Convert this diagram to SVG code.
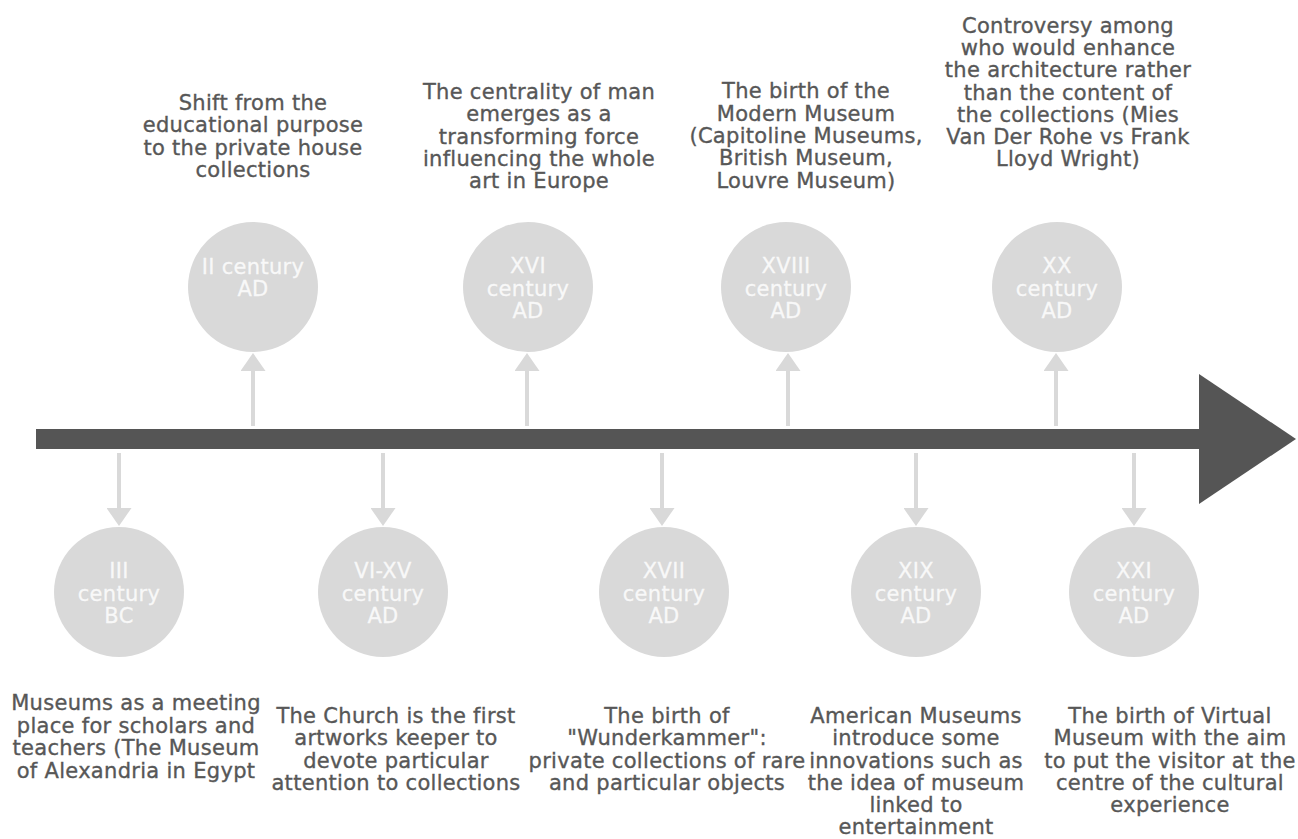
<svg xmlns="http://www.w3.org/2000/svg" width="1298" height="839" viewBox="0 0 1298 839">
  <defs>
    <style>
      .axis { fill: #555555; }
      .dot { fill: #d9d9d9; }
      .era { font-family: "DejaVu Sans", "Liberation Sans", sans-serif; font-size: 21px; letter-spacing: 0.3px; fill: #f8f8f8; stroke: #f8f8f8; stroke-width: 0.3; text-anchor: middle; }
      .note { font-family: "DejaVu Sans", "Liberation Sans", sans-serif; font-size: 21px; letter-spacing: 0.3px; fill: #575757; stroke: #575757; stroke-width: 0.35; text-anchor: middle; }
      .link { stroke: #d9d9d9; stroke-width: 4; fill: none; marker-end: url(#head); }
    </style>
    <marker id="head" viewBox="0 0 18 25" refX="0" refY="12.5" markerWidth="18" markerHeight="25" markerUnits="userSpaceOnUse" orient="auto">
      <path d="M0,0 L18,12.5 L0,25 z" fill="#d9d9d9"/>
    </marker>
  </defs>

  <rect width="1298" height="839" fill="#ffffff"/>

  <!-- main time axis -->
  <g id="timeline-axis">
    <rect class="axis" x="36" y="429" width="1164" height="20"/>
    <polygon class="axis" points="1199,374 1296,439 1199,504"/>
  </g>

  <!-- ticks from the axis to each period -->
  <g id="connectors">
    <line class="link" x1="119" y1="453" x2="119" y2="508"/>
    <line class="link" x1="253" y1="426" x2="253" y2="371"/>
    <line class="link" x1="383" y1="453" x2="383" y2="508"/>
    <line class="link" x1="527" y1="426" x2="527" y2="371"/>
    <line class="link" x1="662" y1="453" x2="662" y2="508"/>
    <line class="link" x1="788" y1="426" x2="788" y2="371"/>
    <line class="link" x1="916" y1="453" x2="916" y2="508"/>
    <line class="link" x1="1056" y1="426" x2="1056" y2="371"/>
    <line class="link" x1="1134" y1="453" x2="1134" y2="508"/>
  </g>

  <g id="node-iii-bc">
    <circle class="dot" cx="119" cy="592" r="65"/>
    <text class="era"><tspan x="119" y="578">III</tspan><tspan x="119" y="601">century</tspan><tspan x="119" y="623">BC</tspan></text>
    <text class="note"><tspan x="136" y="710">Museums as a meeting</tspan><tspan x="136" y="733">place for scholars and</tspan><tspan x="136" y="755">teachers (The Museum</tspan><tspan x="136" y="778">of Alexandria in Egypt</tspan></text>
  </g>

  <g id="node-ii-ad">
    <circle class="dot" cx="253" cy="287" r="65"/>
    <text class="era"><tspan x="253" y="274">II century</tspan><tspan x="253" y="296">AD</tspan></text>
    <text class="note"><tspan x="253" y="110">Shift from the</tspan><tspan x="253" y="132">educational purpose</tspan><tspan x="253" y="155">to the private house</tspan><tspan x="253" y="177">collections</tspan></text>
  </g>

  <g id="node-vi-xv-ad">
    <circle class="dot" cx="383" cy="592" r="65"/>
    <text class="era"><tspan x="383" y="578">VI-XV</tspan><tspan x="383" y="601">century</tspan><tspan x="383" y="623">AD</tspan></text>
    <text class="note"><tspan x="396" y="723">The Church is the first</tspan><tspan x="396" y="745">artworks keeper to</tspan><tspan x="396" y="768">devote particular</tspan><tspan x="396" y="790">attention to collections</tspan></text>
  </g>

  <g id="node-xvi-ad">
    <circle class="dot" cx="528" cy="287" r="65"/>
    <text class="era"><tspan x="528" y="273">XVI</tspan><tspan x="528" y="296">century</tspan><tspan x="528" y="318">AD</tspan></text>
    <text class="note"><tspan x="539" y="99">The centrality of man</tspan><tspan x="539" y="121">emerges as a</tspan><tspan x="539" y="144">transforming force</tspan><tspan x="539" y="166">influencing the whole</tspan><tspan x="539" y="188">art in Europe</tspan></text>
  </g>

  <g id="node-xvii-ad">
    <circle class="dot" cx="664" cy="592" r="65"/>
    <text class="era"><tspan x="664" y="578">XVII</tspan><tspan x="664" y="601">century</tspan><tspan x="664" y="623">AD</tspan></text>
    <text class="note"><tspan x="667" y="723">The birth of</tspan><tspan x="667" y="745">"Wunderkammer":</tspan><tspan x="667" y="768">private collections of rare</tspan><tspan x="667" y="790">and particular objects</tspan></text>
  </g>

  <g id="node-xviii-ad">
    <circle class="dot" cx="786" cy="287" r="65"/>
    <text class="era"><tspan x="786" y="273">XVIII</tspan><tspan x="786" y="296">century</tspan><tspan x="786" y="318">AD</tspan></text>
    <text class="note"><tspan x="806" y="98">The birth of the</tspan><tspan x="806" y="121">Modern Museum</tspan><tspan x="806" y="143">(Capitoline Museums,</tspan><tspan x="806" y="165">British Museum,</tspan><tspan x="806" y="188">Louvre Museum)</tspan></text>
  </g>

  <g id="node-xix-ad">
    <circle class="dot" cx="916" cy="592" r="65"/>
    <text class="era"><tspan x="916" y="578">XIX</tspan><tspan x="916" y="601">century</tspan><tspan x="916" y="623">AD</tspan></text>
    <text class="note"><tspan x="916" y="723">American Museums</tspan><tspan x="916" y="745">introduce some</tspan><tspan x="916" y="768">innovations such as</tspan><tspan x="916" y="790">the idea of museum</tspan><tspan x="916" y="812">linked to</tspan><tspan x="916" y="834">entertainment</tspan></text>
  </g>

  <g id="node-xx-ad">
    <circle class="dot" cx="1057" cy="287" r="65"/>
    <text class="era"><tspan x="1057" y="273">XX</tspan><tspan x="1057" y="296">century</tspan><tspan x="1057" y="318">AD</tspan></text>
    <text class="note"><tspan x="1068" y="33">Controversy among</tspan><tspan x="1068" y="55">who would enhance</tspan><tspan x="1068" y="77">the architecture rather</tspan><tspan x="1068" y="100">than the content of</tspan><tspan x="1068" y="122">the collections (Mies</tspan><tspan x="1068" y="144">Van Der Rohe vs Frank</tspan><tspan x="1068" y="166">Lloyd Wright)</tspan></text>
  </g>

  <g id="node-xxi-ad">
    <circle class="dot" cx="1134" cy="592" r="65"/>
    <text class="era"><tspan x="1134" y="578">XXI</tspan><tspan x="1134" y="601">century</tspan><tspan x="1134" y="623">AD</tspan></text>
    <text class="note"><tspan x="1170" y="723">The birth of Virtual</tspan><tspan x="1170" y="745">Museum with the aim</tspan><tspan x="1170" y="768">to put the visitor at the</tspan><tspan x="1170" y="790">centre of the cultural</tspan><tspan x="1170" y="812">experience</tspan></text>
  </g>
</svg>
